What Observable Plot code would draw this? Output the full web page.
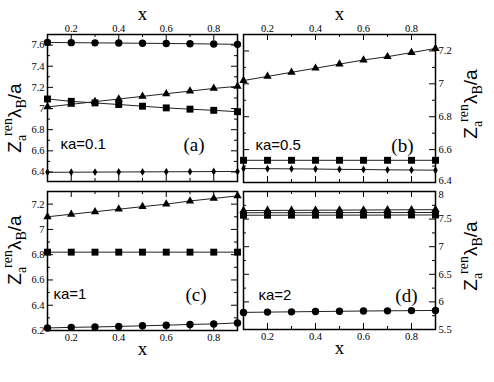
<!DOCTYPE html>
<html><head><meta charset="utf-8">
<script src="https://cdn.jsdelivr.net/npm/d3@7"></script>
<script src="https://cdn.jsdelivr.net/npm/@observablehq/plot@0.6"></script>
<style>
body{margin:0;background:#fff}
#chart{position:relative;width:494px;height:382px}
#chart svg{position:absolute;left:0;top:0}
</style>
</head><body><div id="chart"></div>
<script>
// ---- data ----
const xValues = [0.1, 0.2, 0.3, 0.4, 0.5, 0.6, 0.7, 0.8, 0.9];
const xTicks = [0.2, 0.4, 0.6, 0.8];
const xMinorTicks = [0.3, 0.5, 0.7];

// panel (a) κa=0.1
const aCircle = [7.625, 7.623, 7.621, 7.619, 7.617, 7.615, 7.613, 7.61, 7.607];
const aTriangle = [7.015, 7.04, 7.065, 7.09, 7.115, 7.14, 7.165, 7.19, 7.21];
const aSquare = [7.09, 7.068, 7.053, 7.038, 7.022, 7.006, 6.994, 6.983, 6.97];
const aDiamond = [6.397, 6.398, 6.399, 6.4, 6.401, 6.402, 6.403, 6.404, 6.405];
const aTicks = [6.4, 6.6, 6.8, 7, 7.2, 7.4, 7.6];
const aMinor = [6.5, 6.7, 6.9, 7.1, 7.3, 7.5];

// panel (b) κa=0.5
const bTriangle = [7.02, 7.045, 7.07, 7.095, 7.12, 7.145, 7.165, 7.19, 7.215];
const bSquare = [6.535, 6.535, 6.535, 6.535, 6.535, 6.535, 6.535, 6.535, 6.535];
const bDiamond = [6.485, 6.484, 6.483, 6.482, 6.48, 6.479, 6.477, 6.476, 6.475];
const bTicks = [6.4, 6.6, 6.8, 7, 7.2];
const bMinor = [6.5, 6.7, 6.9, 7.1];

// panel (c) κa=1
const cTriangle = [7.10, 7.12, 7.14, 7.16, 7.18, 7.20, 7.225, 7.245, 7.265];
const cSquare = [6.82, 6.82, 6.82, 6.82, 6.82, 6.82, 6.82, 6.82, 6.82];
const cCircle = [6.22, 6.225, 6.228, 6.232, 6.237, 6.242, 6.248, 6.252, 6.26];
const cTicks = [6.2, 6.4, 6.6, 6.8, 7, 7.2];
const cMinor = [6.3, 6.5, 6.7, 6.9, 7.1];

// panel (d) κa=2
const dTriangle = [7.655, 7.657, 7.659, 7.661, 7.663, 7.665, 7.667, 7.669, 7.671];
const dDiamond = [7.615, 7.616, 7.616, 7.617, 7.617, 7.618, 7.618, 7.619, 7.62];
const dSquare = [7.57, 7.57, 7.571, 7.571, 7.572, 7.572, 7.573, 7.574, 7.575];
const dCircle = [5.81, 5.815, 5.82, 5.825, 5.83, 5.835, 5.838, 5.842, 5.845];
const dTicks = [5.5, 6, 6.5, 7, 7.5, 8];
const dMinor = [5.75, 6.25, 6.75, 7.25, 7.75];

const panelTags = ["(a)", "(b)", "(c)", "(d)"];
const kappaLabels = ["κa=0.1", "κa=0.5", "κa=1", "κa=2"];

// ---- layout ----
const W = 494, H = 382;
const rows = (ys) => xValues.map((x, i) => ({x, y: ys[i]}));
const symR = {circle: 3.7, square: 3.9, triangle: 3.1, diamond: 2.4};

const panels = [
  {left: 47, right: 237, top: 34, bottom: 181, yDomain: [6.31, 7.7], ticks: aTicks, minor: aMinor,
   xSide: "top", ySide: "left", kappa: kappaLabels[0], tag: panelTags[0],
   kdx: 13, tdx: -33, ldy: -37, labelPos: [21, 118], edge: null, edgeDy: 0,
   series: [["circle", aCircle], ["triangle", aTriangle], ["square", aSquare], ["diamond", aDiamond]]},
  {left: 243, right: 435, top: 34, bottom: 182, yDomain: [6.4, 7.3], ticks: bTicks, minor: bMinor,
   xSide: "top", ySide: "right", kappa: kappaLabels[1], tag: panelTags[1],
   kdx: 12, tdx: -22, ldy: -37, labelPos: [477, 104], edge: bTicks[0], edgeDy: -2,
   series: [["triangle", bTriangle], ["square", bSquare], ["diamond", bDiamond]]},
  {left: 47, right: 237, top: 191, bottom: 330, yDomain: [6.2, 7.3], ticks: cTicks, minor: cMinor,
   xSide: "bottom", ySide: "left", kappa: kappaLabels[2], tag: panelTags[2],
   kdx: 6, tdx: -31, ldy: -36, labelPos: [21, 250], edge: null, edgeDy: 0,
   series: [["triangle", cTriangle], ["square", cSquare], ["circle", cCircle]]},
  {left: 243, right: 435, top: 191, bottom: 329, yDomain: [5.5, 8], ticks: dTicks, minor: dMinor,
   xSide: "bottom", ySide: "right", kappa: kappaLabels[3], tag: panelTags[3],
   kdx: 15, tdx: -18, ldy: -34, labelPos: [477, 256], edge: dTicks[dTicks.length - 1], edgeDy: 3,
   series: [["triangle", dTriangle], ["diamond", dDiamond], ["square", dSquare], ["circle", dCircle]]}
];

function makePanel(p) {
  const fw = p.right - p.left, fh = p.bottom - p.top;
  const marks = [];
  // inward ticks on all four sides
  for (const [vals, len] of [[p.ticks, 6], [p.minor, 3]]) {
    marks.push(Plot.tickY(vals, {y: d => d, insetRight: fw - len, stroke: "black"}));
    marks.push(Plot.tickY(vals, {y: d => d, insetLeft: fw - len, stroke: "black"}));
  }
  for (const [vals, len] of [[xTicks, 6], [xMinorTicks, 3]]) {
    marks.push(Plot.tickX(vals, {x: d => d, insetBottom: fh - len, stroke: "black"}));
    marks.push(Plot.tickX(vals, {x: d => d, insetTop: fh - len, stroke: "black"}));
  }
  for (const [sym, ys] of p.series) {
    marks.push(Plot.line(rows(ys), {x: "x", y: "y", stroke: "#222", strokeWidth: 1}));
  }
  for (const [sym, ys] of p.series) {
    marks.push(Plot.dot(rows(ys), {x: "x", y: "y", symbol: () => sym, r: symR[sym], fill: "black", stroke: "none"}));
  }
  marks.push(Plot.frame({stroke: "black", strokeWidth: 1.5}));
  marks.push(Plot.axisX(xTicks, {anchor: p.xSide, tickSize: 0, tickPadding: 3, tickFormat: String, label: null, fontSize: 10.5}));
  const inner = p.ticks.filter(v => v !== p.edge);
  marks.push(Plot.axisY(inner, {anchor: p.ySide, tickSize: 0, tickPadding: 3, tickFormat: String, label: null, fontSize: 10.5}));
  if (p.edge != null) {
    marks.push(Plot.axisY([p.edge], {anchor: p.ySide, tickSize: 0, tickPadding: 3, tickFormat: String, label: null, fontSize: 10.5, dy: p.edgeDy}));
  }
  // axis title "x"
  marks.push(Plot.text(["x"], {text: d => d, frameAnchor: p.xSide, dy: p.xSide === "top" ? -21 : 18,
    fontSize: 19, fontFamily: "Liberation Serif", lineAnchor: "middle"}));
  // annotations
  marks.push(Plot.text([p.kappa], {text: d => d, frameAnchor: "bottom-left", dx: p.kdx, dy: p.ldy,
    textAnchor: "start", lineAnchor: "middle", fontSize: 15, fontFamily: "Liberation Sans"}));
  marks.push(Plot.text([p.tag], {text: d => d, frameAnchor: "bottom-right", dx: p.tdx, dy: p.ldy,
    textAnchor: "end", lineAnchor: "middle", fontSize: 19, fontFamily: "Liberation Serif"}));

  const svg = Plot.plot({
    width: W, height: H,
    marginLeft: p.left, marginRight: W - p.right, marginTop: p.top, marginBottom: H - p.bottom,
    x: {domain: [0.1, 0.9]},
    y: {domain: p.yDomain},
    style: {fontFamily: "Liberation Serif", fontSize: "11px", color: "black", background: "transparent", overflow: "visible"},
    marks
  });

  // y axis title: Z_a^ren λ_B / a
  const t = d3.select(svg).append("text")
    .attr("transform", `translate(${p.labelPos[0]},${p.labelPos[1]}) rotate(-90)`)
    .attr("text-anchor", "middle")
    .attr("fill", "black")
    .style("font-family", "Liberation Sans").style("font-size", "19px");
  t.append("tspan").text("Z");
  t.append("tspan").attr("dy", 5).style("font-family", "Liberation Serif").style("font-size", "14px").text("a");
  t.append("tspan").attr("dy", -14).attr("dx", -1).style("font-family", "Liberation Serif").style("font-size", "14px").text("ren");
  t.append("tspan").attr("dy", 9).text("λ");
  t.append("tspan").attr("dy", 5).style("font-family", "Liberation Serif").style("font-size", "14px").text("B");
  t.append("tspan").attr("dy", -5).text("/a");
  return svg;
}

const root = document.getElementById("chart");
for (const p of panels) root.appendChild(makePanel(p));
</script>
</body></html>
